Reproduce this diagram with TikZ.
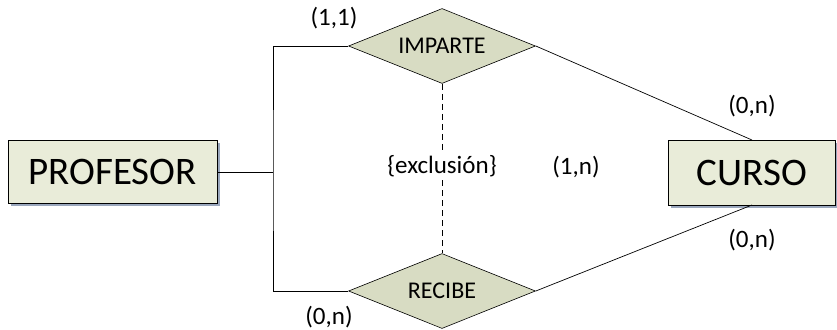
\documentclass[tikz,border=0pt]{standalone}
\usepackage{fontspec}
\setmainfont{Carlito}
\usetikzlibrary{shapes.geometric}
\definecolor{boxfill}{HTML}{E9ECD9}
\definecolor{dfill}{HTML}{D8DCC3}
\definecolor{shadowc}{HTML}{9AA7BD}
\tikzset{
  entity/.style={draw=black, line width=0.8pt, fill=boxfill, inner sep=0pt, font=\fontsize{39}{39}\selectfont},
  rel/.style={draw=black, line width=0.6pt, fill=dfill, diamond, inner sep=0pt, font=\fontsize{24}{24}\selectfont},
  lbl/.style={font=\fontsize{25}{25}\selectfont},
  conn/.style={draw=black, line width=0.7pt},
}
\begin{document}
\begin{tikzpicture}[x=1pt,y=-1pt]
\useasboundingbox (0,0) rectangle (837,329);
% shadows
\fill[shadowc] (11,143) rectangle (220,206);
\fill[shadowc] (671,143) rectangle (838,208);
\node[entity, minimum width=209pt, minimum height=63pt] (prof) at (112.5,171.5) {PROFESOR};
\node[entity, minimum width=167pt, minimum height=65pt, anchor=west] (curso) at (668,172.5) {CURSO};
\node[rel, minimum width=187pt, minimum height=75pt, aspect=2.5] (imp) at (442,46) {IMPARTE};
\node[rel, minimum width=187pt, minimum height=75pt, aspect=2.5] (rec) at (442,291) {RECIBE};
\coordinate (j) at (273,172);
\coordinate (ct) at (752,140);
\coordinate (cb) at (752,205);
\draw[conn] (prof.east |- j) -- (j);
\draw[conn] (imp.west) -| (j) |- (rec.west);
\draw[conn] (imp.east) -- (ct);
\draw[conn] (rec.east) -- (cb);
\node[lbl] (excl) at (442,166) {\{exclusión\}};
\draw[conn, dashed, dash pattern=on 6pt off 4pt] (imp.south) -- (excl.north);
\draw[conn, dashed, dash pattern=on 6pt off 4pt] (excl.south) -- (rec.north);
\node[lbl] (l11) at (334,18) {(1,1)};
\node[lbl] (l0nr) at (329,317) {(0,n)};
\node[lbl] (l1n) at (576,167) {(1,n)};
\node[lbl] (l0nt) at (752,106) {(0,n)};
\node[lbl] (l0nb) at (752,240) {(0,n)};
\end{tikzpicture}
\end{document}
